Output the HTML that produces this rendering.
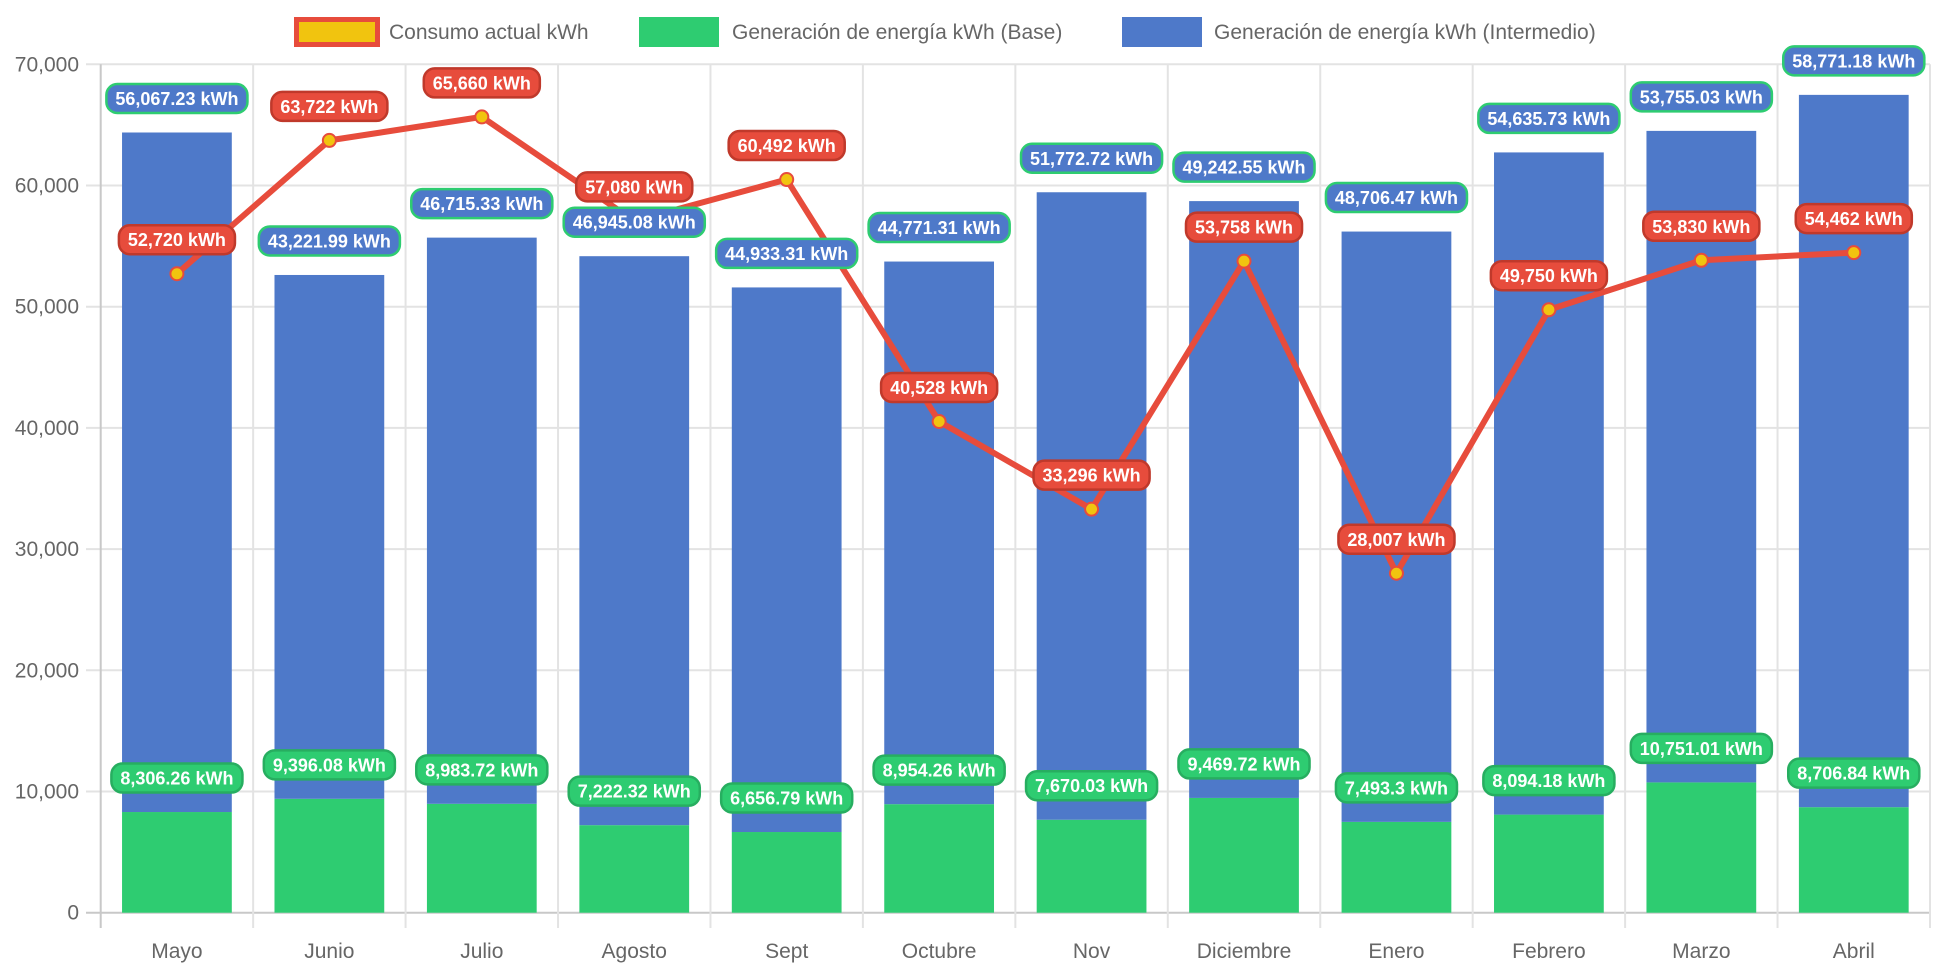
<!DOCTYPE html>
<html><head><meta charset="utf-8"><style>
html,body{margin:0;padding:0;background:#fff;}
svg{display:block;font-family:"Liberation Sans",Arial,sans-serif;}
</style></head><body>
<svg id="chart" width="1942" height="970" viewBox="0 0 1942 970" xmlns="http://www.w3.org/2000/svg">
<g id="legend">
  <g>
    <rect x="296.5" y="19.5" width="81" height="25" fill="#f1c40f" stroke="#e74c3c" stroke-width="5"/>
    <text x="389" y="39" font-size="21" fill="#666">Consumo actual kWh</text>
  </g>
  <g>
    <rect x="639" y="17" width="80" height="30" fill="#2ecc71"/>
    <text x="732" y="39" font-size="21" fill="#666">Generación de energía kWh (Base)</text>
  </g>
  <g>
    <rect x="1122" y="17" width="80" height="30" fill="#4e79c9"/>
    <text x="1214" y="39" font-size="21" fill="#666">Generación de energía kWh (Intermedio)</text>
  </g>
</g>
<g id="grid"></g>
<g id="bars"></g>
<g id="line"></g>
<g id="labels"></g>
</svg>
<script>
const categories = ["Mayo","Junio","Julio","Agosto","Sept","Octubre","Nov","Diciembre","Enero","Febrero","Marzo","Abril"];
const baseValues = [8306.26,9396.08,8983.72,7222.32,6656.79,8954.26,7670.03,9469.72,7493.3,8094.18,10751.01,8706.84];
const intermedioValues = [56067.23,43221.99,46715.33,46945.08,44933.31,44771.31,51772.72,49242.55,48706.47,54635.73,53755.03,58771.18];
const consumoValues = [52720,63722,65660,57080,60492,40528,33296,53758,28007,49750,53830,54462];
const yTicks = [0,10000,20000,30000,40000,50000,60000,70000];

const NS = "http://www.w3.org/2000/svg";
const left = 100.7, right = 1930, y0 = 912.7, y70 = 64.3;
const yMax = 70000;
const catW = (right - left) / categories.length;
const barW = catW * 0.72;
function xC(i){ return left + catW * (i + 0.5); }
function yS(v){ return y0 - (v / yMax) * (y0 - y70); }
function el(tag, attrs, parent){
  const e = document.createElementNS(NS, tag);
  for (const k in attrs) e.setAttribute(k, attrs[k]);
  parent.appendChild(e);
  return e;
}
function fmt(v, dec){
  return v.toLocaleString("en-US", {minimumFractionDigits: 0, maximumFractionDigits: dec}) + " kWh";
}
const grid = document.getElementById("grid");
yTicks.forEach(t => {
  const y = yS(t);
  const ln = el("line", {x1: 86, x2: right, y1: y, y2: y, stroke: t === 0 ? "#c8c8c8" : "#e3e3e3", "stroke-width": 2}, grid);
  
  
  const tx = el("text", {x: 79, y: y + 7, "text-anchor": "end", "font-size": 21, fill: "#666"}, grid);
  tx.textContent = t.toLocaleString("en-US");
  
  
});
for (let i = 0; i <= categories.length; i++){
  const x = left + catW * i;
  const ln = el("line", {x1: x, x2: x, y1: y70, y2: 928, stroke: i === 0 ? "#c8c8c8" : "#e3e3e3", "stroke-width": 2}, grid);
  
  
}
categories.forEach((c, i) => {
  const tx = el("text", {x: xC(i), y: 958, "text-anchor": "middle", "font-size": 21, fill: "#666"}, grid);
  tx.textContent = c;
  
  
});
const bars = document.getElementById("bars");
categories.forEach((c, i) => {
  const b = baseValues[i], m = intermedioValues[i];
  const r1 = el("rect", {x: xC(i) - barW/2, y: yS(b), width: barW, height: y0 - yS(b), fill: "#2ecc71"}, bars);
  
  
  const r2 = el("rect", {x: xC(i) - barW/2, y: yS(b + m), width: barW, height: yS(b) - yS(b + m), fill: "#4e79c9"}, bars);
  
  
});
const lineG = document.getElementById("line");
const pts = consumoValues.map((v, i) => xC(i) + "," + yS(v)).join(" ");
const pl = el("polyline", {points: pts, fill: "none", stroke: "#e74c3c", "stroke-width": 6, "stroke-linejoin": "round"}, lineG);


consumoValues.forEach((v, i) => {
  const p = el("circle", {cx: xC(i), cy: yS(v), r: 6.5, fill: "#f1c40f", stroke: "#e74c3c", "stroke-width": 2}, lineG);
  
  
});
const labels = document.getElementById("labels");
function label(x, cy, txt, bg, border, name){
  const g = el("g", {}, labels);
  
  
  const t = el("text", {x: x, y: cy + 6.5, "text-anchor": "middle", "font-size": 18, "font-weight": "bold", fill: "#fff"}, g);
  t.textContent = txt;
  const w = t.getComputedTextLength() + 18;
  const r = el("rect", {x: x - w/2, y: cy - 14.5, width: w, height: 29, rx: 11, fill: bg, stroke: border, "stroke-width": 2.5}, g);
  g.insertBefore(r, t);
}
categories.forEach((c, i) => {
  label(xC(i), yS(baseValues[i]) - 34, fmt(baseValues[i], 2), "#2ecc71", "#27ae60", "label-base");
});
categories.forEach((c, i) => {
  label(xC(i), yS(baseValues[i] + intermedioValues[i]) - 34, fmt(intermedioValues[i], 2), "#4e79c9", "#2ecc71", "label-intermedio");
});
categories.forEach((c, i) => {
  label(xC(i), yS(consumoValues[i]) - 34, fmt(consumoValues[i], 0), "#e74c3c", "#c0392b", "label-consumo");
});
</script>
</body></html>
